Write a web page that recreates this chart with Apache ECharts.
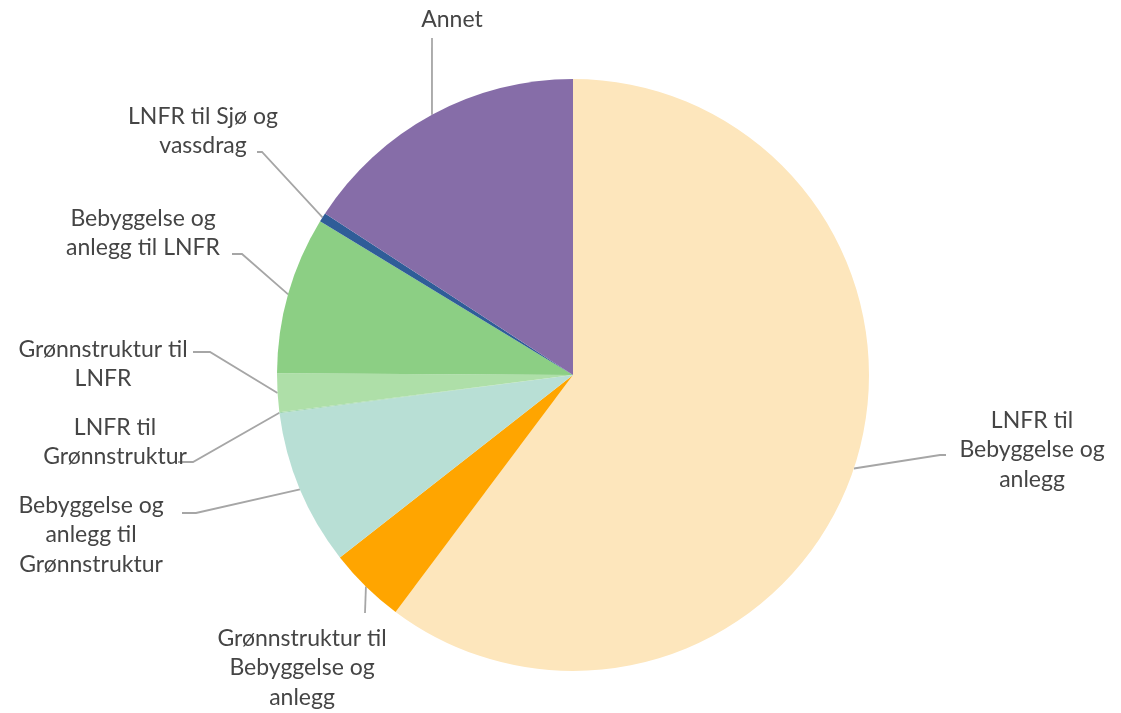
<!DOCTYPE html>
<html>
<head>
<meta charset="utf-8">
<script src="https://cdn.jsdelivr.net/npm/echarts@6/dist/echarts.min.js"></script>
<style>html,body{margin:0;padding:0;background:#fff}#c{width:1121px;height:713px}</style>
</head>
<body>
<div id="c"></div>
<script>
const categories = [
  'LNFR til Bebyggelse og anlegg',
  'Grønnstruktur til Bebyggelse og anlegg',
  'Bebyggelse og anlegg til Grønnstruktur',
  'LNFR til Grønnstruktur',
  'Grønnstruktur til LNFR',
  'Bebyggelse og anlegg til LNFR',
  'LNFR til Sjø og vassdrag',
  'Annet'
];
const labelTexts = [
  'LNFR til\nBebyggelse og\nanlegg',
  'Grønnstruktur til\nBebyggelse og\nanlegg',
  'Bebyggelse og\nanlegg til\nGrønnstruktur',
  'LNFR til\nGrønnstruktur',
  'Grønnstruktur til\nLNFR',
  'Bebyggelse og\nanlegg til LNFR',
  'LNFR til Sjø og\nvassdrag',
  'Annet'
];
const values = [60.2, 4.2, 8.5, 0.05, 2.1, 8.6, 0.5, 15.8];
const colors = ['#FDE6BC', '#FFA500', '#B8DFD5', '#9FD6B0', '#AEDFA8', '#8CCF84', '#2F5D98', '#866DA8'];

// label anchor positions (label centre) and elbow points
const labelPos = [
  {x: 1032, y: 450, elbow: [940, 455], end: [946, 455]},
  {x: 302, y: 668, elbow: [365, 613], end: [365, 613]},
  {x: 91, y: 535, elbow: [196, 513], end: [182, 513]},
  {x: 115, y: 442, elbow: [193, 462], end: [178, 462]},
  {x: 103, y: 364, elbow: [210, 352], end: [193, 352]},
  {x: 143, y: 233, elbow: [242, 254], end: [232, 254]},
  {x: 203, y: 131, elbow: [262, 152], end: [257, 152]},
  {x: 452, y: 20, elbow: [432, 38], end: [432, 38]}
];

const chart = echarts.init(document.getElementById('c'), null, {renderer: 'canvas'});
chart.setOption({
  animation: false,
  series: [{
    type: 'pie',
    center: [573, 375],
    radius: 296,
    startAngle: 90,
    clockwise: true,
    data: categories.map((n, i) => ({name: n, value: values[i], itemStyle: {color: colors[i]}})),
    label: {
      show: true,
      position: 'outside',
      formatter: p => labelTexts[p.dataIndex],
      fontFamily: 'Lato',
      fontWeight: 'normal',
      fontSize: 23,
      lineHeight: 29.5,
      color: '#454545',
      align: 'center'
    },
    labelLine: {show: true, lineStyle: {color: '#A6A6A6', width: 1.8}, length: 10, length2: 10},
    labelLayout: function (params) {
      const lp = labelPos[params.dataIndex];
      const start = params.labelLinePoints ? params.labelLinePoints[0] : lp.elbow;
      return {
        x: lp.x,
        y: lp.y,
        align: 'center',
        verticalAlign: 'middle',
        labelLinePoints: [start, lp.elbow, lp.end]
      };
    }
  }]
});
</script>
</body>
</html>
